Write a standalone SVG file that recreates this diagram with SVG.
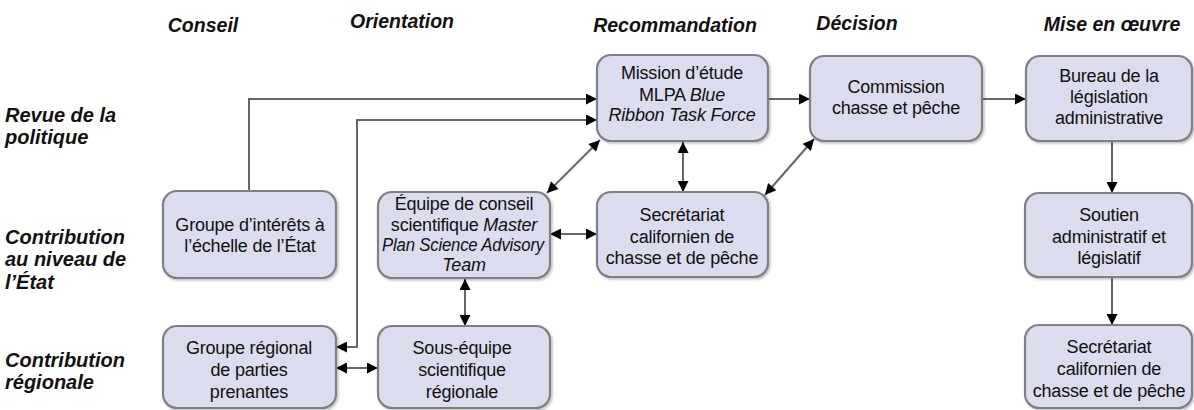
<svg xmlns="http://www.w3.org/2000/svg" width="1194" height="410" viewBox="0 0 1194 410">
<defs>
<style>
.node rect{fill:#dcdcef;stroke:#7f7f86;stroke-width:2.2}
.node text{font-family:"Liberation Sans",Arial,sans-serif;font-size:18px;letter-spacing:-0.2px;fill:#111;text-anchor:middle}
.i{font-style:italic}
.hd{font-family:"Liberation Sans",Arial,sans-serif;font-size:19.5px;font-weight:bold;font-style:italic;fill:#111;text-anchor:middle}
.lb{font-family:"Liberation Sans",Arial,sans-serif;font-size:20px;font-weight:bold;font-style:italic;fill:#111}
.c{fill:none;stroke:#666;stroke-width:2}
</style>
<marker id="ah" viewBox="0 0 10 10" refX="10" refY="5" markerWidth="13" markerHeight="11" markerUnits="userSpaceOnUse" orient="auto-start-reverse">
<path d="M0,0 L10,5 L0,10 z" fill="#000"/>
</marker>
<filter id="sh" x="-10%" y="-10%" width="125%" height="125%">
<feDropShadow dx="1.5" dy="1.5" stdDeviation="1.2" flood-color="#000" flood-opacity="0.25"/>
</filter>
</defs>
<rect width="1194" height="410" fill="#fff"/>

<g id="headers">
<text class="hd" x="203" y="32">Conseil</text>
<text class="hd" x="402" y="28">Orientation</text>
<text class="hd" x="675" y="32">Recommandation</text>
<text class="hd" x="857" y="30">Décision</text>
<text class="hd" x="1112" y="31">Mise en œuvre</text>
</g>
<g id="rows">
<text class="lb" x="5" y="122">Revue de la</text>
<text class="lb" x="5" y="144">politique</text>
<text class="lb" x="5" y="244">Contribution</text>
<text class="lb" x="5" y="266">au niveau de</text>
<text class="lb" x="5" y="289">l’État</text>
<text class="lb" x="5" y="367">Contribution</text>
<text class="lb" x="5" y="389">régionale</text>
</g>

<g id="connectors">
<path class="c" d="M249,191 V99 H597" marker-end="url(#ah)"/>
<path class="c" d="M336,347 H357 V120 H597" marker-start="url(#ah)" marker-end="url(#ah)"/>
<path class="c" d="M336,368 H378" marker-start="url(#ah)" marker-end="url(#ah)"/>
<path class="c" d="M465,279 V326" marker-start="url(#ah)" marker-end="url(#ah)"/>
<path class="c" d="M550,234 H597" marker-start="url(#ah)" marker-end="url(#ah)"/>
<path class="c" d="M547,193 L600,140" marker-start="url(#ah)" marker-end="url(#ah)"/>
<path class="c" d="M683,142 V192" marker-start="url(#ah)" marker-end="url(#ah)"/>
<path class="c" d="M765,195 L814,139" marker-start="url(#ah)" marker-end="url(#ah)"/>
<path class="c" d="M768,99 H810" marker-end="url(#ah)"/>
<path class="c" d="M982,99 H1026" marker-end="url(#ah)"/>
<path class="c" d="M1112,141 V193" marker-end="url(#ah)"/>
<path class="c" d="M1112,277 V325" marker-end="url(#ah)"/>
</g>

<g id="mlpa" class="node"><rect x="597" y="55" width="171" height="86" rx="14" filter="url(#sh)"/>
<text x="682" y="79">Mission d’étude</text>
<text x="682" y="101">MLPA <tspan class="i">Blue</tspan></text>
<text x="682" y="121" class="i">Ribbon Task Force</text></g>

<g id="commission" class="node"><rect x="810" y="56" width="172" height="85" rx="14" filter="url(#sh)"/>
<text x="896" y="93">Commission</text>
<text x="896" y="114">chasse et pêche</text></g>

<g id="bureau" class="node"><rect x="1026" y="56" width="166" height="85" rx="14" filter="url(#sh)"/>
<text x="1109" y="82">Bureau de la</text>
<text x="1109" y="103">législation</text>
<text x="1109" y="124">administrative</text></g>

<g id="groupe-interets" class="node"><rect x="163" y="191" width="173" height="87" rx="14" filter="url(#sh)"/>
<text x="250" y="231">Groupe d’intérêts à</text>
<text x="250" y="252">l’échelle de l’État</text></g>

<g id="equipe" class="node"><rect x="378" y="192" width="172" height="86" rx="14" filter="url(#sh)"/>
<text x="464" y="210">Équipe de conseil</text>
<text x="464" y="231">scientifique  <tspan class="i">Master</tspan></text>
<text x="463" y="251" class="i" textLength="162" lengthAdjust="spacingAndGlyphs">Plan Science Advisory</text>
<text x="464" y="271" class="i">Team</text></g>

<g id="secretariat" class="node"><rect x="597" y="192" width="171" height="85" rx="14" filter="url(#sh)"/>
<text x="682" y="221">Secrétariat</text>
<text x="682" y="243">californien de</text>
<text x="682" y="264">chasse et de pêche</text></g>

<g id="soutien" class="node"><rect x="1025" y="193" width="167" height="84" rx="14" filter="url(#sh)"/>
<text x="1109" y="221">Soutien</text>
<text x="1109" y="243">administratif et</text>
<text x="1109" y="264">législatif</text></g>

<g id="groupe-regional" class="node"><rect x="163" y="326" width="173" height="82" rx="14" filter="url(#sh)"/>
<text x="249" y="354">Groupe régional</text>
<text x="249" y="376">de parties</text>
<text x="249" y="398">prenantes</text></g>

<g id="sous-equipe" class="node"><rect x="378" y="326" width="172" height="82" rx="14" filter="url(#sh)"/>
<text x="462" y="354">Sous-équipe</text>
<text x="462" y="376">scientifique</text>
<text x="462" y="398">régionale</text></g>

<g id="secretariat-2" class="node"><rect x="1025" y="325" width="167" height="83" rx="14" filter="url(#sh)"/>
<text x="1109" y="353">Secrétariat</text>
<text x="1109" y="375">californien de</text>
<text x="1109" y="397">chasse et de pêche</text></g>
</svg>
